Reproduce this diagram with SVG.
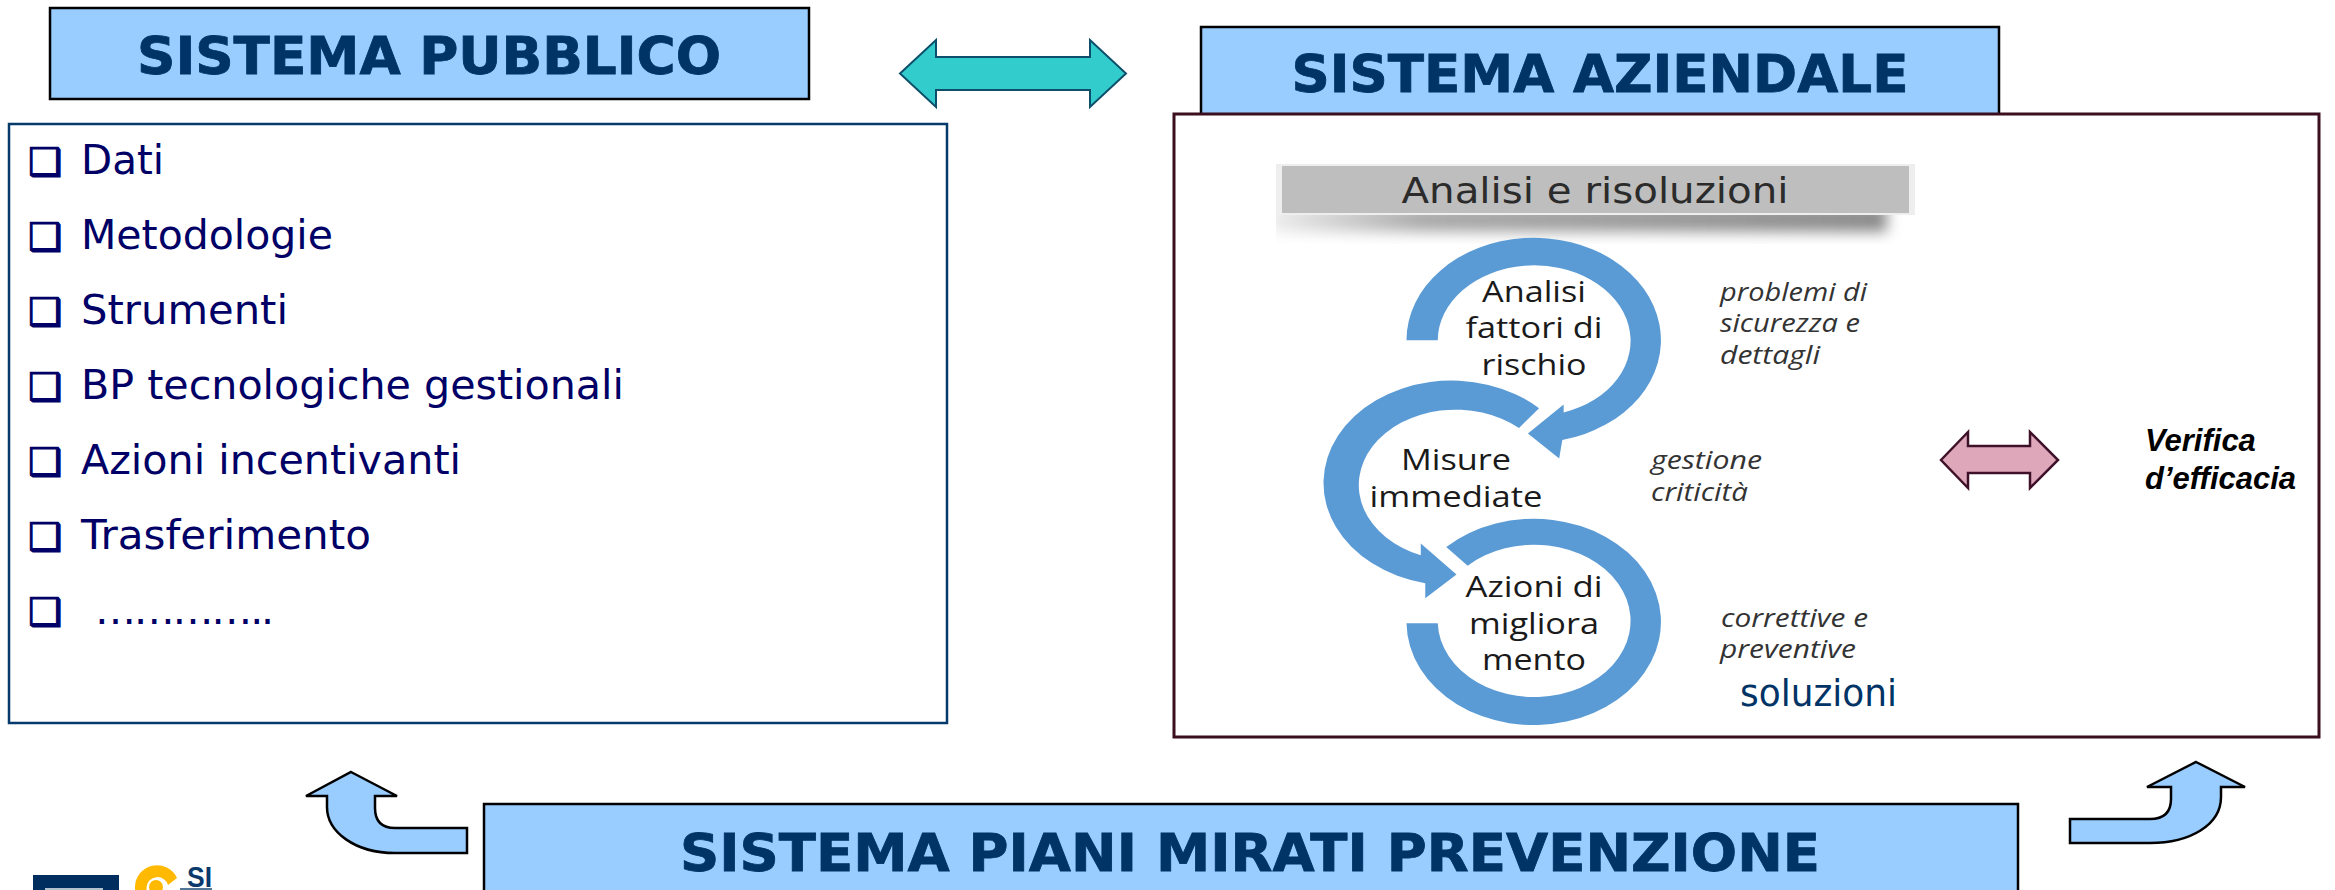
<svg xmlns="http://www.w3.org/2000/svg" width="2335" height="890" viewBox="0 0 2335 890">
<style>
.hdr{fill:#99ccff;stroke:#000;stroke-width:2.5}
.ttl{font:bold 52px "DejaVu Sans",sans-serif;fill:#003366;stroke:#003366;stroke-width:.8;text-anchor:middle}
.li{font:41px "DejaVu Sans",sans-serif;fill:#000066}
.bl{font:38px "DejaVu Sans",sans-serif;fill:#000066;stroke:#000066;stroke-width:1.2}
.ring{fill:#5b9bd5}
.c{font:30px "Open Sans",sans-serif;fill:#1a1a1a;text-anchor:middle}
.n{font:italic 26px "Open Sans",sans-serif;fill:#333}
.bent{fill:#99ccff;stroke:#000;stroke-width:2.5;stroke-linejoin:miter}
</style>
<defs>
<filter id="sh" x="-5%" y="-80%" width="110%" height="260%"><feGaussianBlur stdDeviation="7"/></filter>
<linearGradient id="shg"><stop offset="0" stop-color="#eee"/><stop offset=".25" stop-color="#aaa"/><stop offset="1" stop-color="#8a8a8a"/></linearGradient>
<clipPath id="shc"><rect x="1276" y="200" width="640" height="44"/></clipPath>
</defs>
<rect width="2335" height="890" fill="#fff"/>
<g id="sistema-pubblico">
<rect class="hdr" x="50" y="8" width="759" height="91"/>
<text class="ttl" x="429" y="74" textLength="584" lengthAdjust="spacingAndGlyphs">SISTEMA PUBBLICO</text>
</g>
<g id="lista-pubblico">
<rect x="9" y="124" width="938" height="599" fill="#fff" stroke="#063a6b" stroke-width="2.5"/>
<text class="bl" x="28" y="175">❑</text><text class="li" x="81" y="174" textLength="83" lengthAdjust="spacingAndGlyphs">Dati</text>
<text class="bl" x="28" y="250">❑</text><text class="li" x="81" y="249" textLength="252" lengthAdjust="spacingAndGlyphs">Metodologie</text>
<text class="bl" x="28" y="325">❑</text><text class="li" x="81" y="324" textLength="207" lengthAdjust="spacingAndGlyphs">Strumenti</text>
<text class="bl" x="28" y="400">❑</text><text class="li" x="81" y="399" textLength="543" lengthAdjust="spacingAndGlyphs">BP tecnologiche gestionali</text>
<text class="bl" x="28" y="475">❑</text><text class="li" x="81" y="474" textLength="380" lengthAdjust="spacingAndGlyphs">Azioni incentivanti</text>
<text class="bl" x="28" y="550">❑</text><text class="li" x="81" y="549" textLength="290" lengthAdjust="spacingAndGlyphs">Trasferimento</text>
<text class="bl" x="28" y="625">❑</text><text class="li" x="95" y="624" textLength="179">…………..</text>
</g>
<g id="sistema-aziendale">
<rect class="hdr" x="1201" y="27" width="798" height="88"/>
<text class="ttl" x="1600" y="92" textLength="617" lengthAdjust="spacingAndGlyphs">SISTEMA AZIENDALE</text>
</g>
<g id="box-aziendale">
<rect x="1174" y="114" width="1145" height="623" fill="#fff" stroke="#3b0f1f" stroke-width="3"/>
</g>
<g id="analisi-risoluzioni">
<g clip-path="url(#shc)"><rect x="1270" y="206" width="617" height="26" fill="url(#shg)" filter="url(#sh)"/></g>
<rect x="1276" y="164" width="639" height="51" fill="#eee"/>
<rect x="1282" y="166" width="627" height="47" fill="#bebebe"/>
<text x="1595" y="203" font-family="'DejaVu Sans',sans-serif" font-size="36" fill="#2b2b2b" text-anchor="middle" textLength="387" lengthAdjust="spacingAndGlyphs">Analisi e risoluzioni</text>
<g transform="translate(1240 130) scale(.4464 .3968)">
<path class="ring" d="M373,530 A285,258 0 1 1 722,781 L715,828 L645,765 L725,692 L725,712 A216,190 0 1 0 443,530 Z"/>
<path class="ring" d="M670,701 A287,258 0 1 0 415,1142 L415,1180 L485,1120 L405,1042 L405,1072 A217,190 0 1 1 625,751 Z"/>
<path class="ring" d="M462,1051 A285,260 0 1 1 373,1243 L443,1243 A216,192 0 1 0 510,1098 Z"/>
</g>
<text class="c" x="1534" y="302" textLength="104" lengthAdjust="spacingAndGlyphs">Analisi</text>
<text class="c" x="1534" y="338" textLength="137" lengthAdjust="spacingAndGlyphs">fattori di</text>
<text class="c" x="1534" y="375" textLength="105" lengthAdjust="spacingAndGlyphs">rischio</text>
<text class="c" x="1456" y="470" textLength="110" lengthAdjust="spacingAndGlyphs">Misure</text>
<text class="c" x="1456" y="507" textLength="173" lengthAdjust="spacingAndGlyphs">immediate</text>
<text class="c" x="1534" y="597" textLength="137" lengthAdjust="spacingAndGlyphs">Azioni di</text>
<text class="c" x="1534" y="634" textLength="130" lengthAdjust="spacingAndGlyphs">migliora</text>
<text class="c" x="1534" y="670" textLength="104" lengthAdjust="spacingAndGlyphs">mento</text>
<text class="n" x="1720" y="301" textLength="147" lengthAdjust="spacingAndGlyphs">problemi di</text>
<text class="n" x="1720" y="332" textLength="140" lengthAdjust="spacingAndGlyphs">sicurezza e</text>
<text class="n" x="1720" y="364" textLength="100" lengthAdjust="spacingAndGlyphs">dettagli</text>
<text class="n" x="1651" y="469" textLength="111" lengthAdjust="spacingAndGlyphs">gestione</text>
<text class="n" x="1651" y="501" textLength="97" lengthAdjust="spacingAndGlyphs">criticità</text>
<text class="n" x="1721" y="627" textLength="147" lengthAdjust="spacingAndGlyphs">correttive e</text>
<text class="n" x="1720" y="658" textLength="136" lengthAdjust="spacingAndGlyphs">preventive</text>
<text x="1740" y="706" font-family="'DejaVu Sans',sans-serif" font-size="38" fill="#003366" textLength="157" lengthAdjust="spacingAndGlyphs">soluzioni</text>
</g>
<g id="verifica">
<text font-family="'Liberation Sans',sans-serif" font-size="31" font-weight="bold" font-style="italic" fill="#000"><tspan x="2145" y="451">Verifica</tspan><tspan x="2145" y="489">d’efficacia</tspan></text>
</g>
<g id="sistema-piani">
<rect class="hdr" x="484" y="804" width="1534" height="100"/>
<text class="ttl" x="1250" y="871" textLength="1140" lengthAdjust="spacingAndGlyphs">SISTEMA PIANI MIRATI PREVENZIONE</text>
</g>
<g id="connectors">
<path d="M900,73.500 L936,40 V57 H1090 V40 L1126,73.500 L1090,107 V90 H936 V107 Z" fill="#33cccc" stroke="#0d4f6b" stroke-width="2"/>
<path d="M1941,460 L1968,432 V446 H2030 V432 L2058,460 L2030,488 V473 H1968 V488 Z" fill="#dfa8ba" stroke="#3f1128" stroke-width="2.500"/>
<path class="bent" d="M351,772 L397,796 H375 V808 Q375,828 395,828 H467 V853 H395 C355,853 327,832 327,807 V796 H306 Z"/>
<path class="bent" d="M2196,762 L2245,787 H2221 V797 C2221,825 2190,843 2150,843 H2070 V819 H2150 Q2171,819 2171,799 V787 H2147 Z"/>
</g>
<g id="logo">
<rect x="33" y="875" width="86" height="15" fill="#002f5f"/>
<rect x="45" y="888" width="58" height="2" fill="#fff" opacity=".7"/>
<path d="M177,878 A22,22 0 0 0 135,887 V890 H146.500 V887 A11,11 0 0 1 168,885 Z" fill="#ffb900"/>
<circle cx="156" cy="887" r="7" fill="#ffb900"/>
<text x="187" y="887" font-family="'Liberation Sans',sans-serif" font-size="30" font-weight="bold" fill="#0a3a6b" textLength="25" lengthAdjust="spacingAndGlyphs">SI</text>
<rect x="180" y="888" width="32" height="2" fill="#0a3a6b" opacity=".7"/>
</g>
</svg>
